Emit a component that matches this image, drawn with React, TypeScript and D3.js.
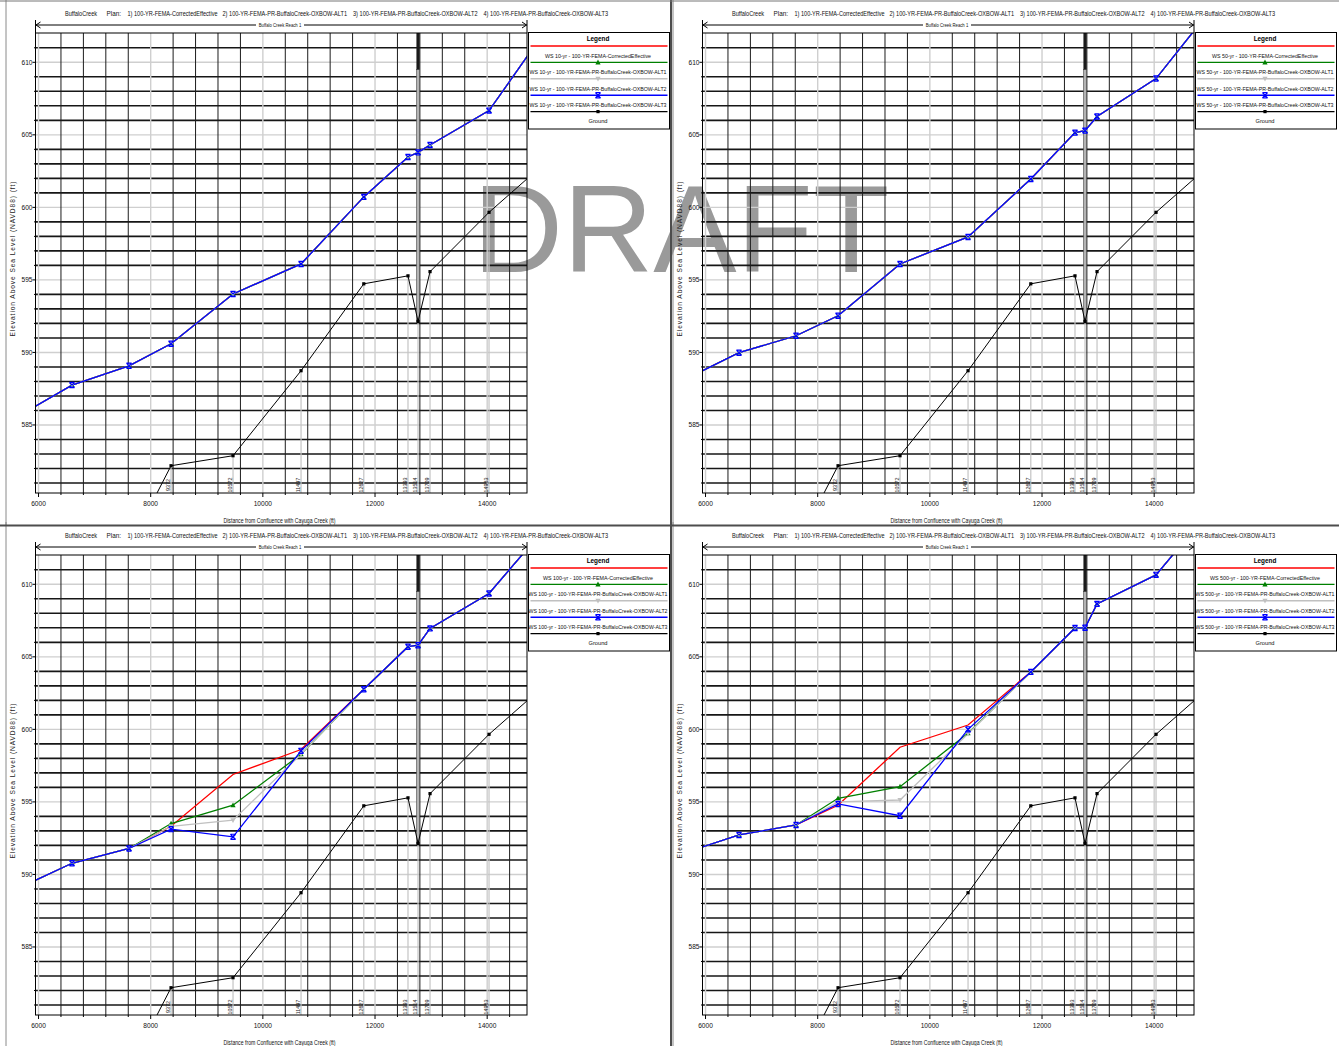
import React from "react";
import * as d3 from "d3";

// Cross sections: distance from the confluence (ft) and river station labels
const xsDistance = [5400, 6597, 7614, 8363, 9468, 10681, 11800, 12588, 12767, 12981, 14033, 15000];
const xsStation = ["", "", "", "9372", "10572", "11497", "12627", "13393", "13514", "13709", "14983", ""];
const groundElev: (number | null)[] = [null, null, 576.56, 582.19, 582.88, 588.74, 594.73, 595.28, 592.14, 595.57, 599.66, 602.95];

// Inline bridge at the cross section 13514
const bridgeIndex = 8;
const bridgeLowChord = 609.5;
const bridgeHighChord = 613.5;

const profiles = ["10-yr", "50-yr", "100-yr", "500-yr"];
const planNames = [
  "100-YR-FEMA-CorrectedEffective",
  "100-YR-FEMA-PR-BuffaloCreek-OXBOW-ALT1",
  "100-YR-FEMA-PR-BuffaloCreek-OXBOW-ALT2",
  "100-YR-FEMA-PR-BuffaloCreek-OXBOW-ALT3",
];

// Water surface elevations (ft) per profile and plan
const ws10 = [585.08, 587.75, 589.08, 590.6, 594.03, 596.1, 600.72, 603.47, 603.79, 604.3, 606.67, 611.98];
const ws50 = [587.7, 589.98, 591.15, 592.53, 596.1, 597.96, 601.96, 605.15, 605.29, 606.26, 608.88, 613.58];
const ws100Effective = [588.62, 590.77, 591.79, 593.32, 596.89, 598.61, 602.77, 605.7, 605.8, 606.96, 609.37, 613.73];
const ws100Alt1 = [588.62, 590.77, 591.79, 593.51, 594.77, 598.29, 602.77, 605.7, 605.8, 606.96, 609.37, 613.73];
const ws100Alt2 = [588.62, 590.77, 591.79, 593.32, 593.74, 598.29, 602.77, 605.7, 605.8, 606.96, 609.37, 613.73];
const ws100Alt3 = [588.62, 590.77, 591.79, 593.12, 592.59, 598.52, 602.77, 605.7, 605.8, 606.96, 609.37, 613.73];
const ws500Effective = [591.2, 592.72, 593.41, 594.77, 598.77, 600.3, 603.96, 606.99, 607.0, 608.65, 610.65, 615.1];
const ws500Alt1 = [591.2, 592.72, 593.41, 595.25, 596.05, 599.73, 603.96, 606.99, 607.0, 608.65, 610.65, 615.1];
const ws500Alt2 = [591.2, 592.72, 593.41, 595.0, 595.13, 599.7, 603.96, 606.99, 607.0, 608.65, 610.65, 615.1];
const ws500Alt3 = [591.2, 592.72, 593.41, 594.86, 594.05, 600.0, 603.96, 606.99, 607.0, 608.65, 610.65, 615.1];

const wsByProfile = [
  [ws10, ws10, ws10, ws10],
  [ws50, ws50, ws50, ws50],
  [ws100Effective, ws100Alt1, ws100Alt2, ws100Alt3],
  [ws500Effective, ws500Alt1, ws500Alt2, ws500Alt3],
];

const xTickValues = [6000, 8000, 10000, 12000, 14000];
const yTickValues = [585, 590, 595, 600, 605, 610];

const FONT_NARROW = "'Liberation Sans Narrow','Arial Narrow','Liberation Sans',Arial,sans-serif";
const FONT_SANS = "'Liberation Sans',Arial,sans-serif";

// Plot frame inside one panel
const PL = 35.5, PR = 527, PT = 33, PB = 493;
const xDomain = [5946, 14710];
const yDomain = [580.31, 612.02];

const planColors = ["#ff0000", "#008000", "#c0c0c0", "#0000ff"];
const planMarker = [0, 1, 2, 3];

function Marker({ kind, cx, cy, color }: { kind: number; cx: number; cy: number; color: string }) {
  if (kind === 1)
    return <path d={`M${cx - 2.6},${cy + 2} L${cx + 2.6},${cy + 2} L${cx},${cy - 2.8} Z`} fill={color} />;
  if (kind === 2)
    return <path d={`M${cx - 2.6},${cy - 2} L${cx + 2.6},${cy - 2} L${cx},${cy + 2.8} Z`} fill={color} />;
  if (kind === 3) {
    const s = 2.6;
    return (
      <path
        d={`M${cx - s},${cy - s} L${cx + s},${cy + s} M${cx + s},${cy - s} L${cx - s},${cy + s} M${cx - s},${cy - s} L${cx + s},${cy - s} M${cx - s},${cy + s} L${cx + s},${cy + s}`}
        stroke={color}
        strokeWidth={1.2}
        fill="none"
      />
    );
  }
  if (kind === 4) return <rect x={cx - 1.6} y={cy - 1.6} width={3.2} height={3.2} fill={color} />;
  return null;
}

const headerParts = [
  { text: "BuffaloCreek", x: 65, len: 32 },
  { text: "Plan:", x: 106.5, len: 14.5 },
  { text: "1) " + planNames[0], x: 127.5, len: 90 },
  { text: "2) " + planNames[1], x: 222.5, len: 124.5 },
  { text: "3) " + planNames[2], x: 353, len: 124.5 },
  { text: "4) " + planNames[3], x: 483.5, len: 124.5 },
];

function Panel({ index, ox, oy }: { index: number; ox: number; oy: number }) {
  const profile = profiles[index];
  const wsSets = wsByProfile[index];
  const x = d3.scaleLinear().domain(xDomain).range([PL, PR]);
  const y = d3.scaleLinear().domain(yDomain).range([PB, PT]);
  const line = d3
    .line<[number, number | null]>()
    .defined((d) => d[1] != null)
    .x((d) => x(d[0]))
    .y((d) => y(d[1] as number));

  const vGrid = d3.range(6000, xDomain[1], 400);
  const hGrid = d3.range(581, 612, 1);
  const clipId = `plot-clip-${index}`;

  const inView = (i: number) => xsDistance[i] >= xDomain[0] && xsDistance[i] <= xDomain[1];
  const groundPts: [number, number | null][] = xsDistance.map((d, i) => [d, groundElev[i]]);
  const shownStations = xsDistance
    .map((d, i) => i)
    .filter((i) => inView(i) && groundElev[i] != null && (groundElev[i] as number) >= yDomain[0]);

  const bx = x(xsDistance[bridgeIndex]);
  const ceLen = index < 2 ? 106 : 110;
  const altLen = index < 2 ? 137 : 139;
  const legendRows = [
    { label: `WS ${profile} - ${planNames[0]}`, color: planColors[0], marker: 0, len: ceLen },
    { label: `WS ${profile} - ${planNames[1]}`, color: planColors[1], marker: 1, len: altLen },
    { label: `WS ${profile} - ${planNames[2]}`, color: planColors[2], marker: 2, len: altLen },
    { label: `WS ${profile} - ${planNames[3]}`, color: planColors[3], marker: 3, len: altLen },
    { label: "Ground", color: "#000", marker: 4, len: 19 },
  ];
  const lgL = 528.5, lgR = 669.5, lgC = (lgL + lgR) / 2 - 1;

  return (
    <g transform={`translate(${ox},${oy})`}>
      <defs>
        <clipPath id={clipId}>
          <rect x={PL} y={PT} width={PR - PL} height={PB - PT} />
        </clipPath>
      </defs>
      <line x1={6} x2={6} y1={0} y2={525} stroke="#8a8a8a" strokeWidth={1} />

      {/* header */}
      {headerParts.map((h, i) => (
        <text key={i} x={h.x} y={15.5} fontFamily={FONT_NARROW} fontSize={6.4} fill="#111" textLength={h.len} lengthAdjust="spacingAndGlyphs">
          {h.text}
        </text>
      ))}

      {/* reach bracket */}
      <g stroke="#000" strokeWidth={1} fill="none">
        <line x1={PL} x2={PR} y1={25} y2={25} />
        <line x1={PL} x2={PL} y1={20} y2={PT} />
        <line x1={PR} x2={PR} y1={20} y2={PT} />
        <path d={`M${PL + 5},${22} L${PL + 0.5},${25} L${PL + 5},${28}`} />
        <path d={`M${PR - 5},${22} L${PR - 0.5},${25} L${PR - 5},${28}`} />
      </g>
      <rect x={256} y={21.5} width={48} height={7} fill="#fff" />
      <text x={280} y={27.3} textAnchor="middle" fontFamily={FONT_NARROW} fontSize={5.4} fill="#111" textLength={42.5} lengthAdjust="spacingAndGlyphs">
        Buffalo Creek Reach 1
      </text>

      {/* grid */}
      {hGrid.map((v) => (
        <line key={`h${v}`} x1={PL} x2={PR} y1={y(v)} y2={y(v)} stroke={v % 5 === 0 ? "#cfcfcf" : "#161616"} strokeWidth={v % 5 === 0 ? 1.4 : 1.6} />
      ))}
      {vGrid.map((v) => (
        <line key={`v${v}`} x1={x(v)} x2={x(v)} y1={PT} y2={PB} stroke={v % 2000 === 0 ? "#cfcfcf" : "#1c1c1c"} strokeWidth={v % 2000 === 0 ? 1.4 : 1} />
      ))}

      {/* axis ticks */}
      {vGrid.map((v) => (
        <line key={`tx${v}`} x1={x(v)} x2={x(v)} y1={PB} y2={PB + (v % 2000 === 0 ? 4 : 2)} stroke="#000" strokeWidth={1} />
      ))}
      {hGrid.map((v) => (
        <line key={`ty${v}`} x1={PL - (v % 5 === 0 ? 3 : 1.5)} x2={PL} y1={y(v)} y2={y(v)} stroke="#000" strokeWidth={1} />
      ))}
      {xTickValues.map((v) => (
        <text key={`lx${v}`} x={x(v)} y={505.5} textAnchor="middle" fontFamily={FONT_NARROW} fontSize={6.6} fill="#111">
          {v}
        </text>
      ))}
      {yTickValues.map((v) => (
        <text key={`ly${v}`} x={32.5} y={y(v) + 2.3} textAnchor="end" fontFamily={FONT_NARROW} fontSize={6.6} fill="#111">
          {v}
        </text>
      ))}
      <text x={279.5} y={522.5} textAnchor="middle" fontFamily={FONT_NARROW} fontSize={6.6} fill="#111" textLength={112} lengthAdjust="spacingAndGlyphs">
        Distance from Confluence with Cayuga Creek (ft)
      </text>
      <text
        transform={`translate(14.5,259) rotate(-90)`}
        textAnchor="middle"
        fontFamily={FONT_SANS}
        fontSize={6.6}
        fill="#222"
        textLength={155}
        lengthAdjust="spacing"
      >
        Elevation Above Sea Level (NAVD88) (ft)
      </text>

      <g clipPath={`url(#${clipId})`}>
        {/* station lines below ground */}
        {shownStations.map((i) => (
          <line key={`st${i}`} x1={x(xsDistance[i])} x2={x(xsDistance[i])} y1={y(groundElev[i] as number)} y2={PB} stroke="#c4c4c4" strokeWidth={1.2} />
        ))}
        {/* bridge */}
        <rect x={bx - 1.5} y={y(bridgeLowChord)} width={3} height={y(groundElev[bridgeIndex] as number) - y(bridgeLowChord)} fill="#b4b4b4" stroke="#4a4a4a" strokeWidth={0.6} />
        <rect x={bx - 1.6} y={y(bridgeHighChord)} width={3.2} height={y(bridgeLowChord) - y(bridgeHighChord)} fill="#1a1a1a" />

        {/* ground */}
        <path d={line(groundPts) || ""} fill="none" stroke="#000" strokeWidth={1} />
        {/* water surfaces */}
        {wsSets.map((arr, p) => (
          <path key={`ws${p}`} d={line(xsDistance.map((d, i) => [d, arr[i]])) || ""} fill="none" stroke={planColors[p]} strokeWidth={1.3} />
        ))}
        {xsDistance.map((d, i) =>
          groundElev[i] != null && inView(i) ? (
            <Marker key={`gm${i}`} kind={4} cx={x(d)} cy={y(groundElev[i] as number)} color="#000" />
          ) : null
        )}
        {[1, 2, 3].map((p) =>
          xsDistance.map((d, i) =>
            inView(i) ? <Marker key={`m${p}-${i}`} kind={planMarker[p]} cx={x(d)} cy={y(wsSets[p][i])} color={planColors[p]} /> : null
          )
        )}
      </g>

      {/* station labels */}
      {shownStations.map((i) => (
        <text
          key={`sl${i}`}
          transform={`translate(${x(xsDistance[i]) - 0.6},485) rotate(-90)`}
          textAnchor="middle"
          fontFamily={FONT_NARROW}
          fontSize={5.4}
          fill="#222"
        >
          {xsStation[i]}
        </text>
      ))}

      <rect x={PL} y={PT} width={PR - PL} height={PB - PT} fill="none" stroke="#000" strokeWidth={1} />

      {/* legend */}
      <rect x={lgL} y={32.5} width={lgR - lgL} height={96.5} fill="#fff" stroke="#000" strokeWidth={1} />
      <text x={lgC} y={40.5} textAnchor="middle" fontFamily={FONT_SANS} fontWeight="bold" fontSize={6.4} fill="#000">
        Legend
      </text>
      {legendRows.map((r, k) => {
        const ly = 46 + k * 16.4;
        return (
          <g key={`lg${k}`}>
            <line x1={lgL + 2} x2={lgR - 2} y1={ly} y2={ly} stroke={r.color} strokeWidth={1.4} />
            <Marker kind={r.marker} cx={lgC} cy={ly} color={r.color} />
            <text x={lgC} y={ly + 11.8} textAnchor="middle" fontFamily={FONT_NARROW} fontSize={6.1} fill="#111" textLength={r.len} lengthAdjust="spacingAndGlyphs">
              {r.label}
            </text>
          </g>
        );
      })}
    </g>
  );
}

export default function App() {
  const panels = [
    { ox: 0, oy: 0 },
    { ox: 667, oy: 0 },
    { ox: 0, oy: 522 },
    { ox: 667, oy: 522 },
  ];
  return (
    <svg width={1339} height={1046} style={{ position: "absolute", left: 0, top: 0, display: "block", background: "#fff" }}>
      <rect x={0} y={0} width={1339} height={1046} fill="#fff" />
      <text x={681} y={272} textAnchor="middle" fontFamily={FONT_SANS} fontSize={125} fill="#9a9a9a">
        DRAFT
      </text>
      {panels.map((p, i) => (
        <Panel key={i} index={i} ox={p.ox} oy={p.oy} />
      ))}
      <line x1={671} x2={671} y1={0} y2={1046} stroke="#4d4d4d" strokeWidth={2} />
      <line x1={0} x2={1339} y1={525.5} y2={525.5} stroke="#4d4d4d" strokeWidth={2} />
      <line x1={0} x2={1339} y1={1} y2={1} stroke="#777" strokeWidth={1} />
    </svg>
  );
}
